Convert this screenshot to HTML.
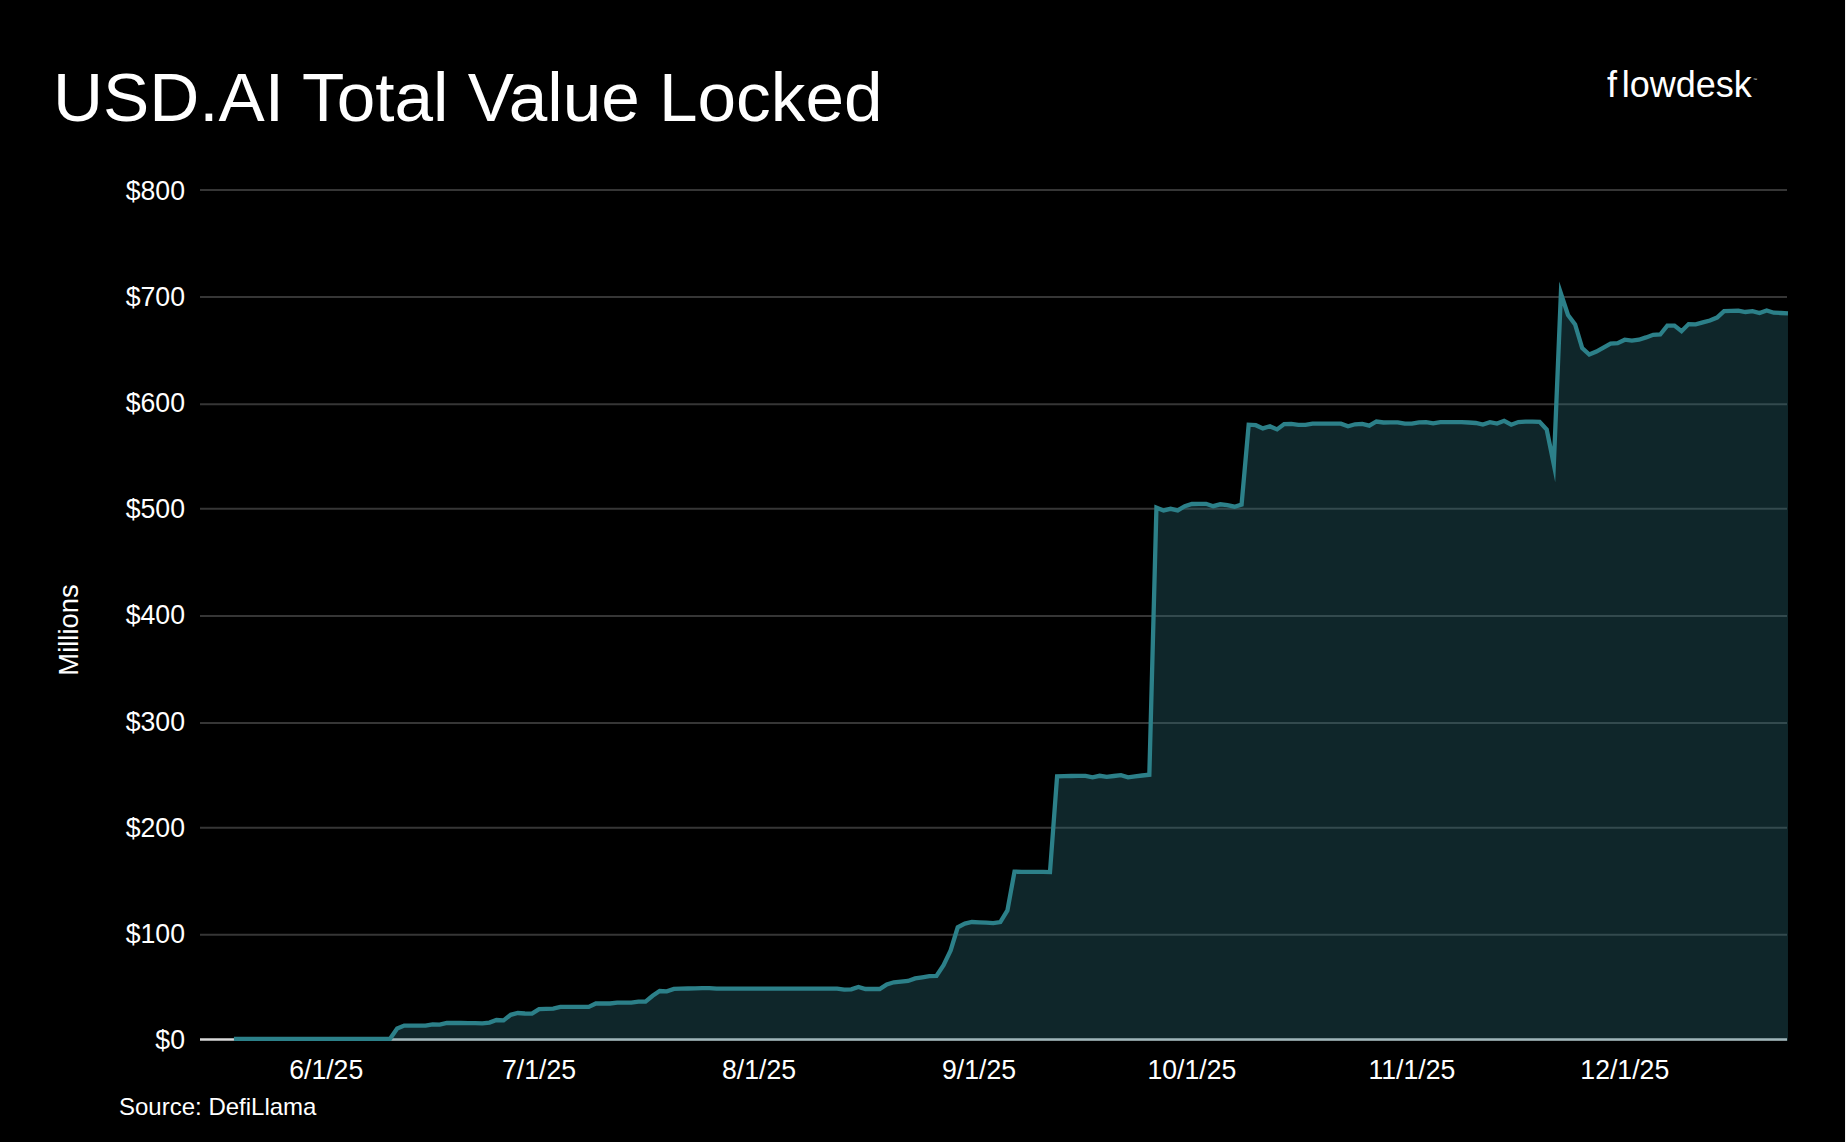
<!DOCTYPE html>
<html><head><meta charset="utf-8"><title>USD.AI Total Value Locked</title>
<style>
html,body{margin:0;padding:0;background:#000;}
body{width:1846px;height:1142px;overflow:hidden;position:relative;}
svg{position:absolute;left:0;top:0;display:block;}
text{font-family:"Liberation Sans",Arial,sans-serif;fill:#fff;}
</style></head><body>
<svg width="1846" height="1142" viewBox="0 0 1846 1142">
<rect x="0" y="0" width="1846" height="1142" fill="#000"/>
<rect x="1845" y="0" width="1" height="1142" fill="#f2f2f2"/>
<text x="53" y="120.8" font-size="69.3">USD.AI Total Value Locked</text>
<g font-size="36"><text x="1607.1" y="96.8" dx="0 4.6">flowdesk</text><text x="1753" y="80.7" font-size="4">™</text></g>
<g stroke="#363636" stroke-width="2" fill="none" shape-rendering="geometricPrecision">
<line x1="200" y1="190.0" x2="1787" y2="190.0"/>
<line x1="200" y1="297.0" x2="1787" y2="297.0"/>
<line x1="200" y1="404.2" x2="1787" y2="404.2"/>
<line x1="200" y1="508.8" x2="1787" y2="508.8"/>
<line x1="200" y1="616.0" x2="1787" y2="616.0"/>
<line x1="200" y1="723.0" x2="1787" y2="723.0"/>
<line x1="200" y1="827.7" x2="1787" y2="827.7"/>
<line x1="200" y1="934.7" x2="1787" y2="934.7"/>
</g>
<line x1="200" y1="1039.4" x2="1787" y2="1039.4" stroke="#d9d9d9" stroke-width="2.5"/>
<polygon points="233.95,1038.8 241.05,1038.8 248.14,1038.8 255.24,1038.8 262.34,1038.8 269.43,1038.8 276.53,1038.8 283.62,1038.8 290.72,1038.8 297.82,1038.8 304.91,1038.8 312.01,1038.8 319.1,1038.8 326.2,1038.8 333.3,1038.8 340.39,1038.8 347.49,1038.8 354.58,1038.8 361.68,1038.8 368.78,1038.8 375.87,1038.8 382.97,1038.8 390.06,1038.8 397.16,1028.6 404.26,1025.6 411.35,1025.6 418.45,1025.6 425.54,1025.6 432.64,1024.3 439.74,1024.7 446.83,1022.8 453.93,1023 461.02,1023 468.12,1023.1 475.22,1023.2 482.31,1023.4 489.41,1022.6 496.5,1020 503.6,1020.4 510.7,1014.8 517.79,1013 524.89,1013.5 531.98,1013.6 539.08,1009.1 546.18,1008.9 553.27,1008.7 560.37,1006.9 567.46,1006.9 574.56,1006.9 581.66,1006.9 588.75,1006.9 595.85,1003.5 602.94,1003.5 610.04,1003.5 617.14,1002.6 624.23,1002.6 631.33,1002.6 638.42,1001.7 645.52,1001.7 652.62,995.8 659.71,991 666.81,991.3 673.9,988.9 681,988.7 688.1,988.5 695.19,988.3 702.29,988.2 709.38,988.1 716.48,988.6 723.58,988.6 730.67,988.6 737.77,988.6 744.86,988.6 751.96,988.6 759.06,988.6 766.15,988.6 773.25,988.6 780.34,988.6 787.44,988.6 794.54,988.6 801.63,988.6 808.73,988.6 815.82,988.6 822.92,988.6 830.02,988.6 837.11,988.6 844.21,989.6 851.3,989.3 858.4,986.9 865.5,989 872.59,989 879.69,989 886.78,984.4 893.88,982.3 900.98,981.6 908.07,981 915.17,978.4 922.26,977.3 929.36,976.2 936.46,976 943.55,965.1 950.65,950.4 957.74,927.3 964.84,923.6 971.94,922 979.03,922.3 986.13,922.7 993.22,923.1 1000.32,922 1007.42,910.4 1014.51,871.6 1021.61,871.8 1028.7,871.8 1035.8,871.8 1042.9,871.8 1049.99,872.1 1057.09,776.3 1064.18,776.2 1071.28,776 1078.38,775.9 1085.47,775.8 1092.57,777.3 1099.66,775.8 1106.76,776.8 1113.86,776 1120.95,775.2 1128.05,777.3 1135.14,776.4 1142.24,775.5 1149.34,774.7 1156.43,507.7 1163.53,510.4 1170.62,508.8 1177.72,510.4 1184.82,506.2 1191.91,504 1199.01,503.9 1206.1,503.8 1213.2,506.2 1220.3,504.3 1227.39,505.1 1234.49,506.7 1241.58,504.6 1248.68,424.7 1255.78,425.2 1262.87,428.4 1269.97,426.3 1277.06,429.4 1284.16,424.1 1291.26,423.9 1298.35,424.9 1305.45,424.9 1312.54,423.7 1319.64,423.7 1326.74,423.7 1333.83,423.7 1340.93,423.7 1348.02,426.3 1355.12,424.3 1362.22,423.9 1369.31,425.6 1376.41,421.5 1383.5,422.5 1390.6,422.4 1397.7,422.3 1404.79,423.7 1411.89,423.7 1418.98,422.3 1426.08,422.1 1433.18,423.3 1440.27,422.2 1447.37,422.2 1454.46,422.1 1461.56,422.1 1468.66,422.5 1475.75,423 1482.85,424.5 1489.94,422.1 1497.04,423.5 1504.14,420.8 1511.23,424.7 1518.33,422.1 1525.42,421.7 1532.52,421.7 1539.62,421.8 1546.71,429.5 1553.81,464.5 1560.9,293.5 1568,315 1575.1,324.4 1582.19,348.1 1589.29,354.6 1596.38,351.6 1603.48,347.6 1610.58,343.6 1617.67,343.2 1624.77,339.7 1631.86,340.6 1638.96,339.7 1646.06,337.4 1653.15,334.8 1660.25,334.5 1667.34,325.7 1674.44,325.6 1681.54,331.2 1688.63,324.1 1695.73,324.4 1702.82,322.4 1709.92,320.5 1717.02,317.6 1724.11,311.1 1731.21,310.9 1738.3,310.7 1745.4,312 1752.5,311.1 1759.59,313 1766.69,310.4 1773.78,312.7 1780.88,313 1787.98,313.3 1787.98,1040.8 233.95,1040.8" fill="rgb(45,114,126)" fill-opacity="0.333" stroke="none"/>
<polyline points="233.95,1038.8 241.05,1038.8 248.14,1038.8 255.24,1038.8 262.34,1038.8 269.43,1038.8 276.53,1038.8 283.62,1038.8 290.72,1038.8 297.82,1038.8 304.91,1038.8 312.01,1038.8 319.1,1038.8 326.2,1038.8 333.3,1038.8 340.39,1038.8 347.49,1038.8 354.58,1038.8 361.68,1038.8 368.78,1038.8 375.87,1038.8 382.97,1038.8 390.06,1038.8 397.16,1028.6 404.26,1025.6 411.35,1025.6 418.45,1025.6 425.54,1025.6 432.64,1024.3 439.74,1024.7 446.83,1022.8 453.93,1023 461.02,1023 468.12,1023.1 475.22,1023.2 482.31,1023.4 489.41,1022.6 496.5,1020 503.6,1020.4 510.7,1014.8 517.79,1013 524.89,1013.5 531.98,1013.6 539.08,1009.1 546.18,1008.9 553.27,1008.7 560.37,1006.9 567.46,1006.9 574.56,1006.9 581.66,1006.9 588.75,1006.9 595.85,1003.5 602.94,1003.5 610.04,1003.5 617.14,1002.6 624.23,1002.6 631.33,1002.6 638.42,1001.7 645.52,1001.7 652.62,995.8 659.71,991 666.81,991.3 673.9,988.9 681,988.7 688.1,988.5 695.19,988.3 702.29,988.2 709.38,988.1 716.48,988.6 723.58,988.6 730.67,988.6 737.77,988.6 744.86,988.6 751.96,988.6 759.06,988.6 766.15,988.6 773.25,988.6 780.34,988.6 787.44,988.6 794.54,988.6 801.63,988.6 808.73,988.6 815.82,988.6 822.92,988.6 830.02,988.6 837.11,988.6 844.21,989.6 851.3,989.3 858.4,986.9 865.5,989 872.59,989 879.69,989 886.78,984.4 893.88,982.3 900.98,981.6 908.07,981 915.17,978.4 922.26,977.3 929.36,976.2 936.46,976 943.55,965.1 950.65,950.4 957.74,927.3 964.84,923.6 971.94,922 979.03,922.3 986.13,922.7 993.22,923.1 1000.32,922 1007.42,910.4 1014.51,871.6 1021.61,871.8 1028.7,871.8 1035.8,871.8 1042.9,871.8 1049.99,872.1 1057.09,776.3 1064.18,776.2 1071.28,776 1078.38,775.9 1085.47,775.8 1092.57,777.3 1099.66,775.8 1106.76,776.8 1113.86,776 1120.95,775.2 1128.05,777.3 1135.14,776.4 1142.24,775.5 1149.34,774.7 1156.43,507.7 1163.53,510.4 1170.62,508.8 1177.72,510.4 1184.82,506.2 1191.91,504 1199.01,503.9 1206.1,503.8 1213.2,506.2 1220.3,504.3 1227.39,505.1 1234.49,506.7 1241.58,504.6 1248.68,424.7 1255.78,425.2 1262.87,428.4 1269.97,426.3 1277.06,429.4 1284.16,424.1 1291.26,423.9 1298.35,424.9 1305.45,424.9 1312.54,423.7 1319.64,423.7 1326.74,423.7 1333.83,423.7 1340.93,423.7 1348.02,426.3 1355.12,424.3 1362.22,423.9 1369.31,425.6 1376.41,421.5 1383.5,422.5 1390.6,422.4 1397.7,422.3 1404.79,423.7 1411.89,423.7 1418.98,422.3 1426.08,422.1 1433.18,423.3 1440.27,422.2 1447.37,422.2 1454.46,422.1 1461.56,422.1 1468.66,422.5 1475.75,423 1482.85,424.5 1489.94,422.1 1497.04,423.5 1504.14,420.8 1511.23,424.7 1518.33,422.1 1525.42,421.7 1532.52,421.7 1539.62,421.8 1546.71,429.5 1553.81,464.5 1560.9,293.5 1568,315 1575.1,324.4 1582.19,348.1 1589.29,354.6 1596.38,351.6 1603.48,347.6 1610.58,343.6 1617.67,343.2 1624.77,339.7 1631.86,340.6 1638.96,339.7 1646.06,337.4 1653.15,334.8 1660.25,334.5 1667.34,325.7 1674.44,325.6 1681.54,331.2 1688.63,324.1 1695.73,324.4 1702.82,322.4 1709.92,320.5 1717.02,317.6 1724.11,311.1 1731.21,310.9 1738.3,310.7 1745.4,312 1752.5,311.1 1759.59,313 1766.69,310.4 1773.78,312.7 1780.88,313 1787.98,313.3" fill="none" stroke="#2c8089" stroke-width="4.3" stroke-linejoin="miter" stroke-miterlimit="30" stroke-linecap="butt"/>
<g font-size="26.67" text-anchor="end">
<text transform="translate(185,199.66) scale(1,1.026)">$800</text>
<text transform="translate(185,305.84) scale(1,1.026)">$700</text>
<text transform="translate(185,412.02) scale(1,1.026)">$600</text>
<text transform="translate(185,518.2) scale(1,1.026)">$500</text>
<text transform="translate(185,624.38) scale(1,1.026)">$400</text>
<text transform="translate(185,730.56) scale(1,1.026)">$300</text>
<text transform="translate(185,836.74) scale(1,1.026)">$200</text>
<text transform="translate(185,942.92) scale(1,1.026)">$100</text>
<text transform="translate(185,1049.1) scale(1,1.026)">$0</text>
</g>
<g font-size="26.67" text-anchor="middle">
<text transform="translate(326.2,1079) scale(1,1.026)">6/1/25</text>
<text transform="translate(539.08,1079) scale(1,1.026)">7/1/25</text>
<text transform="translate(759.06,1079) scale(1,1.026)">8/1/25</text>
<text transform="translate(979.03,1079) scale(1,1.026)">9/1/25</text>
<text transform="translate(1191.91,1079) scale(1,1.026)">10/1/25</text>
<text transform="translate(1411.89,1079) scale(1,1.026)">11/1/25</text>
<text transform="translate(1624.77,1079) scale(1,1.026)">12/1/25</text>
</g>
<text transform="translate(78,630) rotate(-90)" font-size="27.4" text-anchor="middle">Millions</text>
<text x="119" y="1114.5" font-size="24">Source: DefiLlama</text>
</svg>
</body></html>
